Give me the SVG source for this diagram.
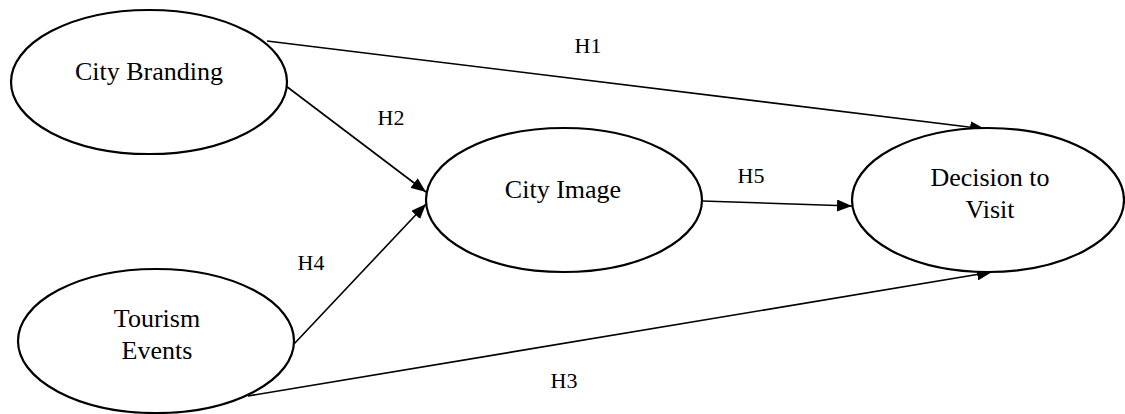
<svg xmlns="http://www.w3.org/2000/svg" width="1125" height="414" viewBox="0 0 1125 414">
<style>
.node{fill:#fff;stroke:#000;stroke-width:2.2}
.ntext{font-family:"Liberation Serif","Times New Roman",serif;font-size:26px;fill:#000;text-anchor:middle}
.ltext{font-family:"Liberation Serif","Times New Roman",serif;font-size:22px;fill:#000;text-anchor:middle}
.edge{stroke:#000;stroke-width:1.6;fill:none;marker-end:url(#arr)}
</style>
<defs>
<marker id="arr" markerUnits="userSpaceOnUse" markerWidth="16" markerHeight="12" refX="15" refY="6" orient="auto">
<path d="M0,0 L15,6 L0,12 z" fill="#000"/>
</marker>
</defs>
<rect width="1125" height="414" fill="#fff"/>
<g id="connectors">
<line class="edge" x1="267" y1="41" x2="985" y2="129"/>
<line class="edge" x1="286" y1="86" x2="426" y2="192"/>
<line class="edge" x1="294" y1="344" x2="426" y2="204"/>
<line class="edge" x1="248" y1="396" x2="992" y2="272"/>
<line class="edge" x1="702" y1="201" x2="852" y2="206"/>
<text class="ltext" x="588" y="53">H1</text>
<text class="ltext" x="391" y="125">H2</text>
<text class="ltext" x="564" y="388">H3</text>
<text class="ltext" x="311" y="270">H4</text>
<text class="ltext" x="751" y="183">H5</text>
</g>
<g id="city-branding">
<ellipse class="node" cx="149" cy="82" rx="138" ry="72"/>
<text class="ntext" x="149" y="80">City Branding</text>
</g>
<g id="tourism-events">
<ellipse class="node" cx="156" cy="341" rx="138" ry="72"/>
<text class="ntext" x="157" y="327">Tourism</text>
<text class="ntext" x="157" y="359">Events</text>
</g>
<g id="city-image">
<ellipse class="node" cx="564" cy="200" rx="138" ry="72"/>
<text class="ntext" x="563" y="198">City Image</text>
</g>
<g id="decision-to-visit">
<ellipse class="node" cx="988" cy="200" rx="136" ry="72"/>
<text class="ntext" x="990" y="186">Decision to</text>
<text class="ntext" x="990" y="218">Visit</text>
</g>
</svg>
